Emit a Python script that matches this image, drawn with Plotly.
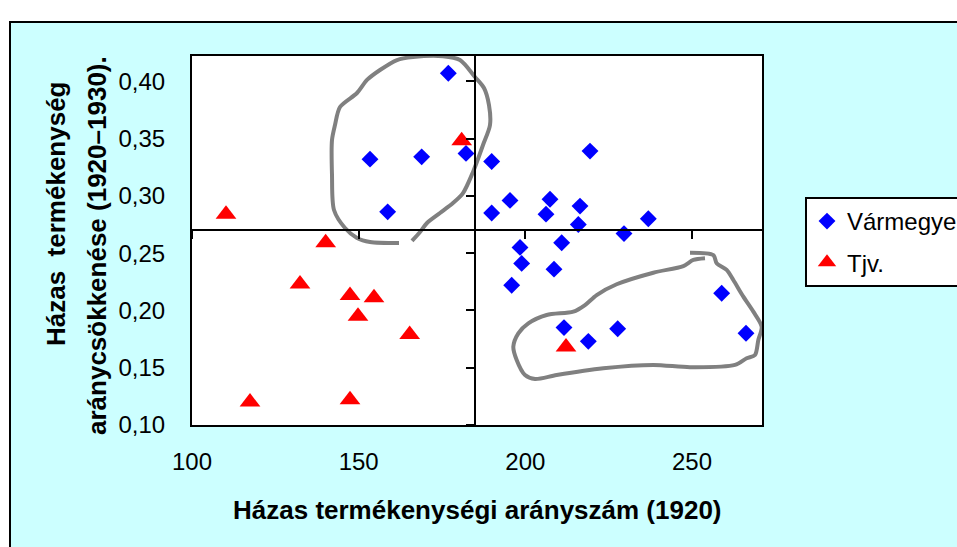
import plotly.graph_objects as go

# ---------------- data ----------------
varm_x = [176.9, 153.4, 168.9, 182.2, 158.7, 189.9, 219.4, 195.4, 189.9, 207.4,
          206.2, 216.4, 215.9, 236.9, 229.6, 198.4, 210.9, 198.9, 208.6, 195.9,
          258.9, 211.6, 227.7, 218.9, 266.2]
varm_y = [0.407, 0.332, 0.334, 0.337, 0.286, 0.330, 0.339, 0.296, 0.285, 0.297,
          0.284, 0.291, 0.275, 0.280, 0.267, 0.255, 0.259, 0.241, 0.236, 0.222,
          0.215, 0.185, 0.184, 0.173, 0.180]

tjv_x = [110.2, 180.9, 140.1, 132.4, 147.4, 154.6, 149.8, 165.3, 117.4, 147.4, 212.2]
tjv_y = [0.284, 0.348, 0.259, 0.223, 0.213, 0.211, 0.195, 0.179, 0.120, 0.122, 0.168]

series_names = ["Vármegye", "Tjv."]
x_ticks = [100, 150, 200, 250]
y_ticks = [0.10, 0.15, 0.20, 0.25, 0.30, 0.35, 0.40]
cross_x = 185      # vertical dividing axis
cross_y = 0.27     # horizontal dividing axis

# hand-drawn outlines (data units)
outline_upper_x = [166.0, 168.4, 170.5, 174.4, 178.3, 181.3, 184.3, 187.3, 189.4, 189.1,
                   187.6, 184.9, 180.4, 175.3, 166.3, 161.5, 156.4, 152.5, 149.5, 144.4,
                   142.9, 142.0, 142.0, 142.6, 145.9, 149.5, 153.4, 162.1]
outline_upper_y = [0.2606, 0.2684, 0.2763, 0.2850, 0.2937, 0.3024, 0.3208, 0.3443, 0.3618, 0.3792,
                   0.3941, 0.4037, 0.4185, 0.4218, 0.4211, 0.4185, 0.4098, 0.4011, 0.3897, 0.3775,
                   0.3618, 0.3487, 0.3182, 0.2876, 0.2719, 0.2632, 0.2597, 0.2588]
outline_lower_x = [249.4, 256.4, 257.4, 260.4, 262.4, 265.4, 268.4, 270.9, 269.9, 268.9,
                   266.4, 262.9, 249.4, 238.4, 223.4, 209.4, 202.9, 199.9, 197.4, 196.4,
                   197.9, 200.9, 206.4, 214.4, 217.9, 221.4, 227.4, 238.4, 247.4, 250.4, 253.9]
outline_lower_y = [0.2504, 0.2483, 0.2411, 0.2353, 0.2265, 0.2120, 0.1989, 0.1858, 0.1742, 0.1611,
                   0.1582, 0.1524, 0.1504, 0.1524, 0.1495, 0.1436, 0.1401, 0.1436, 0.1567, 0.1683,
                   0.1800, 0.1887, 0.1960, 0.1989, 0.2047, 0.2134, 0.2228, 0.2329, 0.2387, 0.2440, 0.2455]

X_RANGE = [100, 271]
Y_RANGE = [0.10, 0.422]

# ---------------- geometry ----------------
W, H = 957, 547
ML, MR, MT, MB = 192, 195, 56, 122
PW, PH = W - ML - MR, H - MT - MB


def px_x(p):
    return (p - ML) / PW


def px_y(p):
    return (H - MB - p) / PH


FONT = "Liberation Sans, Arial, sans-serif"
CYAN = "#CCFFFF"

fig = go.Figure()

fig.add_trace(go.Scatter(
    x=varm_x, y=varm_y, mode="markers", name=series_names[0], legendgroup="a",
    marker=dict(symbol="diamond", size=13, color="#0000FF", line=dict(width=0)),
))
fig.add_trace(go.Scatter(
    x=tjv_x, y=tjv_y, mode="markers", name=series_names[1], legendgroup="b",
    marker=dict(symbol="triangle-up", size=18, color="#FF0000", line=dict(width=0)),
))
for ox, oy in [(outline_upper_x, outline_upper_y), (outline_lower_x, outline_lower_y)]:
    fig.add_trace(go.Scatter(
        x=ox, y=oy, mode="lines", showlegend=False, hoverinfo="skip", cliponaxis=False,
        line=dict(color="#808080", width=4, shape="spline", smoothing=0.8),
    ))
# dummy trace for the dividing axes
fig.add_trace(go.Scatter(x=[None], y=[None], xaxis="x2", yaxis="y2",
                         showlegend=False, hoverinfo="skip"))

common = dict(showgrid=False, zeroline=False)
fig.update_layout(
    width=W, height=H, autosize=False,
    margin=dict(l=ML, r=MR, t=MT, b=MB, pad=0, autoexpand=False),
    paper_bgcolor=CYAN, plot_bgcolor="white",
    font=dict(family=FONT, color="black", size=24),
    separators=", ",
    xaxis=dict(range=X_RANGE, tickvals=x_ticks, ticks="", showline=True, mirror=True,
               linecolor="black", linewidth=2, tickfont=dict(size=24, family=FONT),
               ticklabelstandoff=14, **common),
    yaxis=dict(range=Y_RANGE, tickvals=y_ticks, tickformat=".2f", ticks="", showline=True,
               mirror=True, linecolor="black", linewidth=2, tickfont=dict(size=24, family=FONT),
               ticklabelstandoff=20, **common),
    xaxis2=dict(overlaying="x", range=X_RANGE, anchor="free",
                position=(cross_y - Y_RANGE[0]) / (Y_RANGE[1] - Y_RANGE[0]),
                tickvals=x_ticks, ticks="outside", ticklen=8, tickwidth=2, tickcolor="black",
                showticklabels=False, showline=True, linecolor="black", linewidth=2, **common),
    yaxis2=dict(overlaying="y", range=Y_RANGE, anchor="free", side="left",
                position=(cross_x - X_RANGE[0]) / (X_RANGE[1] - X_RANGE[0]),
                tickvals=y_ticks, ticks="outside", ticklen=8, tickwidth=2, tickcolor="black",
                showticklabels=False, showline=True, linecolor="black", linewidth=2, **common),
    legend=dict(x=px_x(805), y=px_y(197), xanchor="left", yanchor="top",
                bgcolor="white", bordercolor="black", borderwidth=2,
                font=dict(size=24, family=FONT, color="black"), tracegroupgap=7,
                traceorder="grouped"),
    showlegend=True,
)

shapes = [
    # white strip above the frame
    dict(type="rect", xref="paper", yref="paper", x0=px_x(-5), x1=px_x(W + 5),
         y0=px_y(21), y1=px_y(-5), fillcolor="white", line=dict(width=0), layer="above"),
    # white strip left of the frame
    dict(type="rect", xref="paper", yref="paper", x0=px_x(-5), x1=px_x(9),
         y0=px_y(H + 5), y1=px_y(-5), fillcolor="white", line=dict(width=0), layer="above"),
    # frame lines
    dict(type="line", xref="paper", yref="paper", x0=px_x(9), x1=px_x(W + 5),
         y0=px_y(22), y1=px_y(22), line=dict(color="black", width=2), layer="above"),
    dict(type="line", xref="paper", yref="paper", x0=px_x(10), x1=px_x(10),
         y0=px_y(21), y1=px_y(H + 5), line=dict(color="black", width=2), layer="above"),
]
fig.update_layout(shapes=shapes)

fig.update_layout(annotations=[
    dict(text="<b>Házas termékenységi arányszám (1920)</b>", xref="paper", yref="paper",
         x=0.5, y=px_y(510), xanchor="center", yanchor="middle", showarrow=False,
         font=dict(size=26, family=FONT)),
    dict(text="<b>Házas  termékenység</b>", xref="paper", yref="paper",
         x=px_x(56), y=px_y(214), xanchor="center", yanchor="middle", showarrow=False,
         textangle=-90, font=dict(size=26, family=FONT)),
    dict(text="<b>aránycsökkenése (1920–1930).</b>", xref="paper", yref="paper",
         x=px_x(97), y=px_y(246), xanchor="center", yanchor="middle", showarrow=False,
         textangle=-90, font=dict(size=26, family=FONT)),
])

fig.write_html(
    "out.html",
    config={"responsive": False, "displayModeBar": False},
    post_script="document.body.style.margin='0';document.body.style.overflow='hidden';",
)
